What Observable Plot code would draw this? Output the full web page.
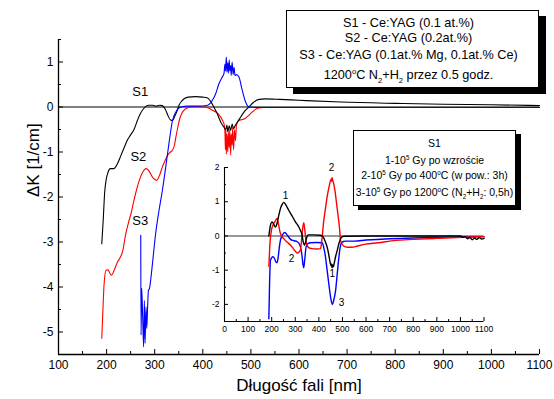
<!DOCTYPE html>
<html><head><meta charset="utf-8">
<script src="https://cdn.jsdelivr.net/npm/d3@7"></script>
<script src="https://cdn.jsdelivr.net/npm/@observablehq/plot@0.6"></script>
<style>
body{margin:0;background:#fff;font-family:"Liberation Sans",Arial,sans-serif;}
#wrap{position:relative;width:554px;height:399px;overflow:hidden;}
#main,#inset{position:absolute;}
#main{left:0;top:0}
#inset{left:195px;top:155px}
.box{position:absolute;background:#fff;border:1px solid #000;box-sizing:border-box;color:#000}
.box div{position:absolute;left:0;white-space:nowrap;text-align:center}
sup,sub{font-size:0.6em;line-height:0;}
</style></head><body>
<div id="wrap">
  <div id="main"></div>
  <div id="inset"></div>
  <div class="box" style="left:286px;top:10px;width:253px;height:78px;box-shadow:7px 6px 0 #000;font-size:12.7px;line-height:16px">
    <div style="top:4px;right:8px">S1 - Ce:YAG (0.1 at.%)</div>
    <div style="top:19px;right:8px">S2 - Ce:YAG (0.2at.%)</div>
    <div style="top:36px;right:8px">S3 - Ce:YAG (0.1at.% Mg, 0.1at.% Ce)</div>
    <div style="top:56px;right:8px">1200<sup>o</sup>C N<sub>2</sub>+H<sub>2</sub> przez 0.5 godz.</div>
  </div>
  <div class="box" style="left:353px;top:130px;width:163px;height:76px;box-shadow:5px 4px 0 #000;font-size:10.5px;line-height:13px">
    <div style="top:5.5px;right:0">S1</div>
    <div style="top:22.5px;right:0">1-10<sup>5</sup> Gy po wzroście</div>
    <div style="top:37.5px;right:0">2-10<sup>5</sup> Gy po 400<sup>o</sup>C (w pow.: 3h)</div>
    <div style="top:54.5px;right:0">3-10<sup>5</sup> Gy po 1200<sup>o</sup>C (N<sub>2</sub>+H<sub>2</sub>: 0,5h)</div>
  </div>
</div>
<script>
// ---------- main chart data ----------
const s1Nm  = [190,193,196,199,203,208,215,223,230,237,242,250,257,264,270,276,282,288,296,303,310,316,322,328,333,337,341,346,351,356,362,370,385,400,410,416,423,430,438,444,448,450,452,455,458,461,464,468,473,480,488,496,505,517,530,560,600,687,800,900,1000,1100];
const s1Val = [-3.04,-2.5,-1.9,-1.62,-1.45,-1.37,-1.37,-1.25,-1.07,-0.89,-0.76,-0.62,-0.5,-0.3,-0.15,-0.05,0.02,0.04,0.04,0.02,0.04,0.03,-0.05,-0.2,-0.29,-0.3,-0.22,-0.1,0.05,0.13,0.19,0.22,0.23,0.22,0.2,0.13,0.0,-0.15,-0.35,-0.45,-0.5,-0.4,-0.55,-0.42,-0.52,-0.38,-0.48,-0.4,-0.32,-0.2,-0.08,0.0,0.1,0.17,0.18,0.17,0.15,0.11,0.08,0.06,0.05,0.03];

const s2Nm  = [190,192,195,199,203,207,210,216,223,228,233,240,246,251,257,262,268,275,282,288,296,304,310,316,322,327,333,337,341,344,348,351,356,361,368,375,390,405,413,421,431,437,441,444,446,447,448,449,450,452,453,455,456,458,459,461,462,464,466,468,470,475,482,489,496,503,514,525,600,800,1100];
const s2Val = [-5.14,-4.6,-3.9,-3.63,-3.62,-3.7,-3.74,-3.62,-3.44,-3.35,-3.22,-2.81,-2.55,-2.36,-2.07,-1.85,-1.63,-1.45,-1.37,-1.42,-1.57,-1.63,-1.52,-1.33,-1.18,-1.07,-1.0,-0.96,-0.85,-0.67,-0.45,-0.3,-0.15,-0.07,-0.02,0.0,0.01,0.0,-0.03,-0.08,-0.14,-0.22,-0.3,-0.37,-0.55,-0.95,-0.5,-1.05,-0.6,-1.0,-0.55,-0.9,-0.5,-1.07,-0.6,-0.85,-0.45,-0.95,-0.5,-0.75,-0.4,-0.3,-0.28,-0.25,-0.18,-0.11,-0.03,-0.01,-0.01,-0.01,-0.01];

const s3Nm  = [271,271.6,273,275,277,278.5,280,282,283.5,285,287,289,292,296,302,309,316,323,330,337,344,354,370,390,410,420,427,433,440,444,446,447,449,450,452,453,455,456,458,459,461,463,465,467,470,475,482,489,496,520,1100];
const s3Val = [-2.85,-5.07,-4.03,-4.67,-5.33,-4.3,-5.25,-4.44,-4.92,-4.52,-4.07,-4.04,-3.81,-3.41,-2.81,-2.3,-1.85,-1.33,-0.78,-0.3,-0.11,0.0,0.02,0.02,0.04,0.15,0.3,0.5,0.66,0.74,0.95,0.8,1.11,0.78,0.98,0.75,1.05,0.8,0.92,0.7,1.0,0.72,0.88,0.7,0.72,0.67,0.37,0.11,0.0,-0.012,-0.012];

const mainXTicks = [100,200,300,400,500,600,700,800,900,1000,1100];
const mainXMinor = [150,250,350,450,550,650,750,850,950,1050];
const mainYTicks = [1,0,-1,-2,-3,-4,-5];
const mainYMinor = [1.5,0.5,-0.5,-1.5,-2.5,-3.5,-4.5,-5.5];
const mainLabelText = ["S1","S2","S3"];
const mainLabelNm   = [270,266,270];
const mainLabelVal  = [0.33,-1.1,-2.52];

// ---------- inset data ----------
const i1Nm  = [188,192,196,202,208,216,222,230,238,245,251,258,270,285,300,315,322,328,333,339,345,351,357,380,405,414,422,430,435,442,448,452,454,456,458,461,465,471,478,485,492,500,506,600,800,1000,1010,1020,1030,1040,1050,1060,1070,1080,1090,1100];
const i1Val = [0.0,0.2,0.35,0.41,0.35,0.26,0.35,0.6,0.82,0.93,0.98,0.93,0.78,0.6,0.42,0.26,0.16,0.05,-0.15,-0.27,-0.15,0.0,0.03,0.03,0.02,0.0,-0.08,-0.22,-0.32,-0.55,-0.78,-0.87,-0.82,-0.93,-0.85,-0.9,-0.8,-0.6,-0.42,-0.22,-0.08,-0.02,-0.01,0.0,0.0,0.0,-0.04,-0.02,-0.08,-0.05,-0.11,-0.06,-0.1,-0.05,-0.09,-0.07];

const i2Nm  = [188,192,199,206,213,223,230,237,251,265,280,295,308,316,322,327,331,336,340,346,352,357,370,390,407,413,421,428,435,442,448,452,454,456,459,462,468,475,482,488,492,499,506,520,541,560,598,650,725,800,900,1008,1100];
const i2Val = [-0.89,-0.3,0.17,0.32,0.41,0.51,0.3,0.07,-0.08,-0.18,-0.27,-0.4,-0.5,-0.47,-0.4,-0.1,0.2,0.39,0.2,-0.17,-0.3,-0.34,-0.37,-0.38,-0.37,-0.1,0.46,0.8,1.14,1.4,1.58,1.66,1.6,1.7,1.62,1.55,1.34,0.95,0.56,0.2,-0.13,-0.25,-0.3,-0.33,-0.33,-0.3,-0.24,-0.2,-0.13,-0.1,-0.07,-0.04,-0.02];

const i3Nm  = [188,191,195,205,212,218,223,228,233,237,245,256,265,280,295,308,316,322,328,333,336,340,346,355,365,390,414,421,428,435,442,450,457,464,471,478,485,490,496,505,513,550,600,700,800,900,1000,1100];
const i3Val = [-2.42,-1.4,-0.71,-0.61,-0.66,-0.76,-0.78,-0.6,-0.3,-0.13,0.02,0.1,0.03,-0.1,-0.14,-0.17,-0.22,-0.32,-0.55,-0.85,-0.93,-0.7,-0.32,-0.22,-0.2,-0.19,-0.2,-0.35,-0.61,-1.0,-1.39,-1.8,-2.0,-1.85,-1.59,-1.1,-0.61,-0.35,-0.2,-0.16,-0.15,-0.15,-0.12,-0.08,-0.06,-0.04,-0.03,-0.02];

const insetXTicks = [0,100,200,300,400,500,600,700,800,900,1000,1100];
const insetXMinor = [50,150,250,350,450,550,650,750,850,950,1050];
const insetYTicks = [2,1,0,-1,-2];
const insetYMinor = [1.5,0.5,-0.5,-1.5,-2.5];
const insetLabelText = ["1","2","2","1","3"];
const insetLabelNm   = [259,454,284,457,496];
const insetLabelVal  = [1.17,2.0,-0.66,-1.1,-1.95];

// ---------- build ----------
const zip = (xs, ys) => xs.map((x, i) => ({nm: x, v: ys[i]}));
const s1 = zip(s1Nm, s1Val), s2 = zip(s2Nm, s2Val), s3 = zip(s3Nm, s3Val);
const i1 = zip(i1Nm, i1Val), i2 = zip(i2Nm, i2Val), i3 = zip(i3Nm, i3Val);
const mainLabels = mainLabelText.map((t, i) => ({t, nm: mainLabelNm[i], v: mainLabelVal[i]}));
const insetLabels = insetLabelText.map((t, i) => ({t, nm: insetLabelNm[i], v: insetLabelVal[i]}));
const font = "Liberation Sans, Arial, sans-serif";
const fmt = d => String(d);

const M = {w: 554, h: 399, l: 58, r: 15, t: 39, b: 45};
const mIW = M.w - M.l - M.r, mIH = M.h - M.t - M.b;

const main = Plot.plot({
  width: M.w, height: M.h,
  marginLeft: M.l, marginRight: M.r, marginTop: M.t, marginBottom: M.b,
  x: {domain: [100, 1100]},
  y: {domain: [-5.5, 1.5]},
  style: {fontFamily: font, background: "transparent", color: "#000"},
  marks: [
    Plot.ruleY([0], {stroke: "#000", strokeWidth: 1.2}),
    Plot.line(s2, {x: "nm", y: "v", stroke: "#ff0000", strokeWidth: 1.1, curve: "monotone-x"}),
    Plot.line(s1, {x: "nm", y: "v", stroke: "#000", strokeWidth: 1.1, curve: "monotone-x"}),
    Plot.line(s3, {x: "nm", y: "v", stroke: "#0000ff", strokeWidth: 1.1, curve: "monotone-x"}),
    Plot.ruleX([100], {stroke: "#000", strokeWidth: 1.3}),
    Plot.ruleY([-5.5], {stroke: "#000", strokeWidth: 1.3}),
    Plot.tickX(mainXTicks, {x: d => d, insetTop: mIH - 5, stroke: "#000"}),
    Plot.tickX(mainXMinor, {x: d => d, insetTop: mIH - 3, stroke: "#000"}),
    Plot.tickY(mainYTicks, {y: d => d, insetRight: mIW - 5, stroke: "#000"}),
    Plot.tickY(mainYMinor, {y: d => d, insetRight: mIW - 3, stroke: "#000"}),
    Plot.axisX(mainXTicks, {tickSize: 0, tickPadding: 6, fontSize: 12, tickFormat: fmt, label: null}),
    Plot.axisY(mainYTicks, {tickSize: 0, tickPadding: 5, fontSize: 12, tickFormat: fmt, label: null}),
    Plot.text(["Długość fali [nm]"], {text: d => d, frameAnchor: "bottom", dy: 36, fontSize: 17}),
    Plot.text(["ΔK [1/cm]"], {text: d => d, frameAnchor: "left", dx: -25, rotate: -90, fontSize: 17}),
    Plot.text(mainLabels, {x: "nm", y: "v", text: "t", fontSize: 13})
  ]
});
document.getElementById("main").appendChild(main);

const N = {w: 300, h: 185, l: 29, r: 11.5, t: 12, b: 19};
const nIW = N.w - N.l - N.r, nIH = N.h - N.t - N.b;
const inset = Plot.plot({
  width: N.w, height: N.h,
  marginLeft: N.l, marginRight: N.r, marginTop: N.t, marginBottom: N.b,
  x: {domain: [0, 1100]},
  y: {domain: [-2.5, 2]},
  style: {fontFamily: font, background: "transparent", color: "#000", overflow: "visible"},
  marks: [
    Plot.ruleY([0], {stroke: "#333", strokeWidth: 1.1}),
    Plot.line(i3, {x: "nm", y: "v", stroke: "#0000ff", strokeWidth: 1.4, curve: "monotone-x"}),
    Plot.line(i2, {x: "nm", y: "v", stroke: "#ff0000", strokeWidth: 1.4, curve: "monotone-x"}),
    Plot.line(i1, {x: "nm", y: "v", stroke: "#000", strokeWidth: 1.4, curve: "monotone-x"}),
    Plot.ruleX([0], {stroke: "#000", strokeWidth: 1.1}),
    Plot.ruleY([-2.5], {stroke: "#000", strokeWidth: 1.1}),
    Plot.tickX(insetXTicks, {x: d => d, insetTop: nIH - 4, stroke: "#000"}),
    Plot.tickX(insetXMinor, {x: d => d, insetTop: nIH - 2, stroke: "#000"}),
    Plot.tickY(insetYTicks, {y: d => d, insetRight: nIW - 4, stroke: "#000"}),
    Plot.tickY(insetYMinor, {y: d => d, insetRight: nIW - 2, stroke: "#000"}),
    Plot.axisX(insetXTicks, {tickSize: 0, tickPadding: 4, fontSize: 8.5, tickFormat: fmt, label: null}),
    Plot.axisY(insetYTicks, {tickSize: 0, tickPadding: 5, fontSize: 8.5, tickFormat: fmt, label: null}),
    Plot.text(insetLabels, {x: "nm", y: "v", text: "t", fontSize: 10})
  ]
});
document.getElementById("inset").appendChild(inset);
</script>
</body></html>
